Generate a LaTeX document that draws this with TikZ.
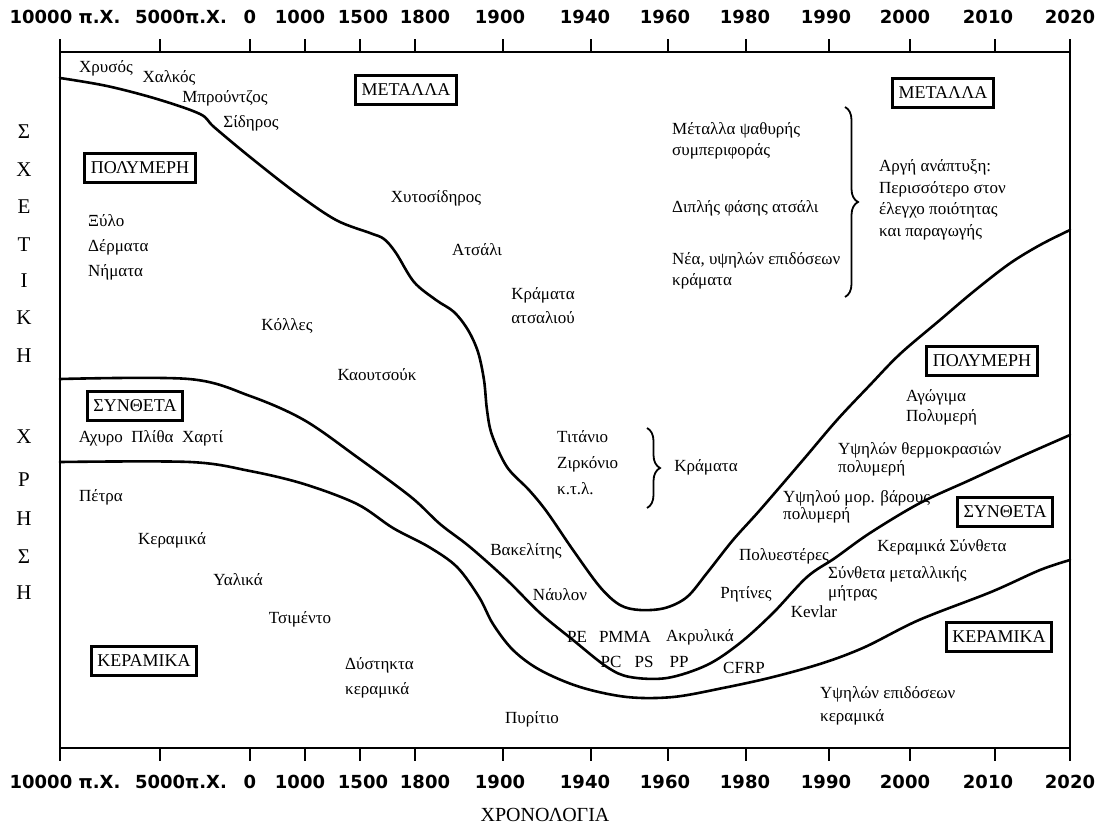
\documentclass[tikz,border=0pt]{standalone}
\usepackage{fontspec}
\setmainfont{Liberation Serif}
\newfontfamily\yearfont{DejaVu Sans}
\usetikzlibrary{decorations.pathreplacing}

\tikzset{
	txt/.style={inner sep=0pt,font=\fontsize{17}{20}\selectfont},
	txtl/.style={txt,align=left,anchor=west},
	matbox/.style={draw,line width=2.6pt,inner xsep=6pt,inner ysep=0pt,minimum height=29pt,font=\fontsize{18}{20}\selectfont},
	yr/.style={inner sep=0pt,font=\yearfont\bfseries\fontsize{18}{20}\selectfont},
	vl/.style={inner sep=0pt,font=\fontsize{21}{22}\selectfont},
	curve/.style={line width=2.6pt,line join=round,line cap=round},
	curly/.style={decorate,decoration={brace,amplitude=13pt},line width=1.8pt}
}

\begin{document}
\begin{tikzpicture}[x=1pt,y=-1pt]
	\useasboundingbox (0,0) rectangle (1107,827);
	\draw[line width=2.8pt] (60,52) rectangle (1070,748);
	\foreach \t/\l/\n [count=\i] in {60/65/10000 π.Χ.,160/181/5000π.Χ.,250/250/0,305/300/1000,360/363/1500,415/425/1800,503/500/1900,591/585/1940,668/665/1960,746/745/1980,829/826/1990,910/905/2000,995/988/2010,1070/1070/2020}{
		\draw[line width=2.6pt] (\t,52) -- (\t,39);
		\draw[line width=2.6pt] (\t,748) -- (\t,761);
		\node[yr] (top\i) at (\l,17) {\n};
		\node[yr] (bot\i) at (\l,782) {\n};
	}
	\foreach \c/\y [count=\i] in {Σ/132,Χ/170,Ε/207,Τ/245,Ι/281,Κ/318,Η/356,Χ/437,Ρ/480,Η/519,Σ/557,Η/593}
		\node[vl] (ax\i) at (24,\y) {\c};
	\node[font=\fontsize{20}{22}\selectfont] (time) at (545,815) {ΧΡΟΝΟΛΟΓΙΑ};

	\draw[curve] plot[smooth,tension=0.55] coordinates {(60,78) (107,86) (157,99) (200,114) (214,127) (250,157) (296,193) (336,220) (370,233) (384,239) (396,253) (414,282) (436,300) (454,312) (468,330) (478,352) (484,380) (487,410) (492,435) (507,467) (529,490) (547,512) (573,550) (600,587) (620,605) (640,610) (665,608) (687,597) (707,573) (733,540) (760,510) (803,460) (837,420) (870,385) (900,354) (940,320) (973,292) (1009,264) (1040,245) (1070,230)};
	\draw[curve] plot[smooth,tension=0.55] coordinates {(60,379) (189,379) (250,396) (304,420) (357,457) (411,497) (440,524) (470,547) (507,580) (540,613) (573,640) (607,667) (630,677) (667,678) (707,665) (740,643) (773,613) (807,577) (835,558) (870,533) (920,503) (970,480) (1020,457) (1070,435)};
	\draw[curve] plot[smooth,tension=0.55] coordinates {(60,462) (190,462) (250,471) (304,484) (357,504) (393,528) (429,547) (457,567) (479,597) (493,624) (513,650) (540,670) (580,687) (627,697) (673,697) (723,688) (773,677) (823,663) (865,647) (919,620) (991,592) (1040,570) (1070,560)};

	\node[txt] (au) at (106,68) {Χρυσός};
	\node[txt] (cu) at (169,78) {Χαλκός};
	\node[txt] (brz) at (225,98) {Μπρούντζος};
	\node[txt] (fe) at (251,123) {Σίδηρος};
	\node[matbox] (metL) at (406,90) {ΜΕΤΑΛΛΑ};
	\node[matbox] (polL) at (140,168) {ΠΟΛΥΜΕΡΗ};
	\node[txtl] (nat) at (88,247) {Ξύλο\\[5pt]Δέρματα\\[5pt]Νήματα};
	\node[txt] (castfe) at (436,198) {Χυτοσίδηρος};
	\node[txt] (steel) at (477,250) {Ατσάλι};
	\node[txt,align=center] (stall) at (543,306) {Κράματα\\[4pt]ατσαλιού};
	\node[txt] (glue) at (287,326) {Κόλλες};
	\node[txt] (rub) at (377,375) {Καουτσούκ};

	\node[matbox] (comL) at (135,406) {ΣΥΝΘΕΤΑ};
	\node[txt] (straw) at (151,438) {Αχυρο~~Πλίθα~~Χαρτί};
	\node[txt] (stone) at (101,497) {Πέτρα};
	\node[txt] (pot) at (172,540) {Κεραμικά};
	\node[txt] (glass) at (238,580) {Υαλικά};
	\node[txt] (cem) at (300,619) {Τσιμέντο};
	\node[matbox] (cerL) at (144,661) {ΚΕΡΑΜΙΚΑ};
	\node[txtl] (refr) at (345,678) {Δύστηκτα\\[5pt]κεραμικά};
	\node[txt] (si) at (532,719) {Πυρίτιο};
	\node[txt] (bak) at (526,551) {Βακελίτης};
	\node[txt] (nyl) at (560,595) {Νάυλον};

	\node[txtl] (ti) at (557,463) {Τιτάνιο\\[6pt]Ζιρκόνιο\\[6pt]κ.τ.λ.};
	\coordinate (bra) at (647,428);
	\coordinate (brb) at (647,508);
	\draw[curly] (bra) -- (brb);
	\node[txt] (alloy) at (706,467) {Κράματα};
	\node[txt] (pe) at (577,637) {PE};
	\node[txt] (pmma) at (625,637) {PMMA};
	\node[txt] (acr) at (700,637) {Ακρυλικά};
	\node[txt] (pc) at (611,662) {PC};
	\node[txt] (ps) at (644,662) {PS};
	\node[txt] (pp) at (679,662) {PP};
	\node[txt] (cfrp) at (744,668) {CFRP};
	\node[txt] (res) at (746,594) {Ρητίνες};
	\node[txt] (pes) at (784,556) {Πολυεστέρες};
	\node[txt] (kev) at (814,612) {Kevlar};
	\node[txtl] (hpc) at (820,706) {Υψηλών επιδόσεων\\[3pt]κεραμικά};
	\node[matbox] (cerR) at (999,637) {ΚΕΡΑΜΙΚΑ};
	\node[txtl] (mmc) at (828,584) {Σύνθετα μεταλλικής\\[-1pt]μήτρας};
	\node[txt] (cmc) at (942,547) {Κεραμικά Σύνθετα};
	\node[matbox] (comR) at (1005,512) {ΣΥΝΘΕΤΑ};
	\node[txtl] (hmw) at (783,507) {Υψηλού μορ. βάρους\\[-3pt]πολυμερή};
	\node[txtl] (htp) at (838,459) {Υψηλών θερμοκρασιών\\[-2pt]πολυμερή};
	\node[txtl] (cond) at (906,407) {Αγώγιμα\\Πολυμερή};
	\node[matbox] (polR) at (982,361) {ΠΟΛΥΜΕΡΗ};

	\node[matbox] (metR) at (943,93) {ΜΕΤΑΛΛΑ};
	\node[txtl] (glm) at (672,141) {Μέταλλα ψαθυρής\\[1pt]συμπεριφοράς};
	\node[txtl] (dps) at (672,208) {Διπλής φάσης ατσάλι};
	\node[txtl] (nsa) at (672,271) {Νέα, υψηλών επιδόσεων\\[1pt]κράματα};
	\coordinate (brc) at (845,107);
	\coordinate (brd) at (845,297);
	\draw[curly] (brc) -- (brd);
	\node[txtl] (slow) at (879,200) {Αργή ανάπτυξη:\\[1.5pt]Περισσότερο στον\\[1.5pt]έλεγχο ποιότητας\\[1.5pt]και παραγωγής};
\end{tikzpicture}
\end{document}
